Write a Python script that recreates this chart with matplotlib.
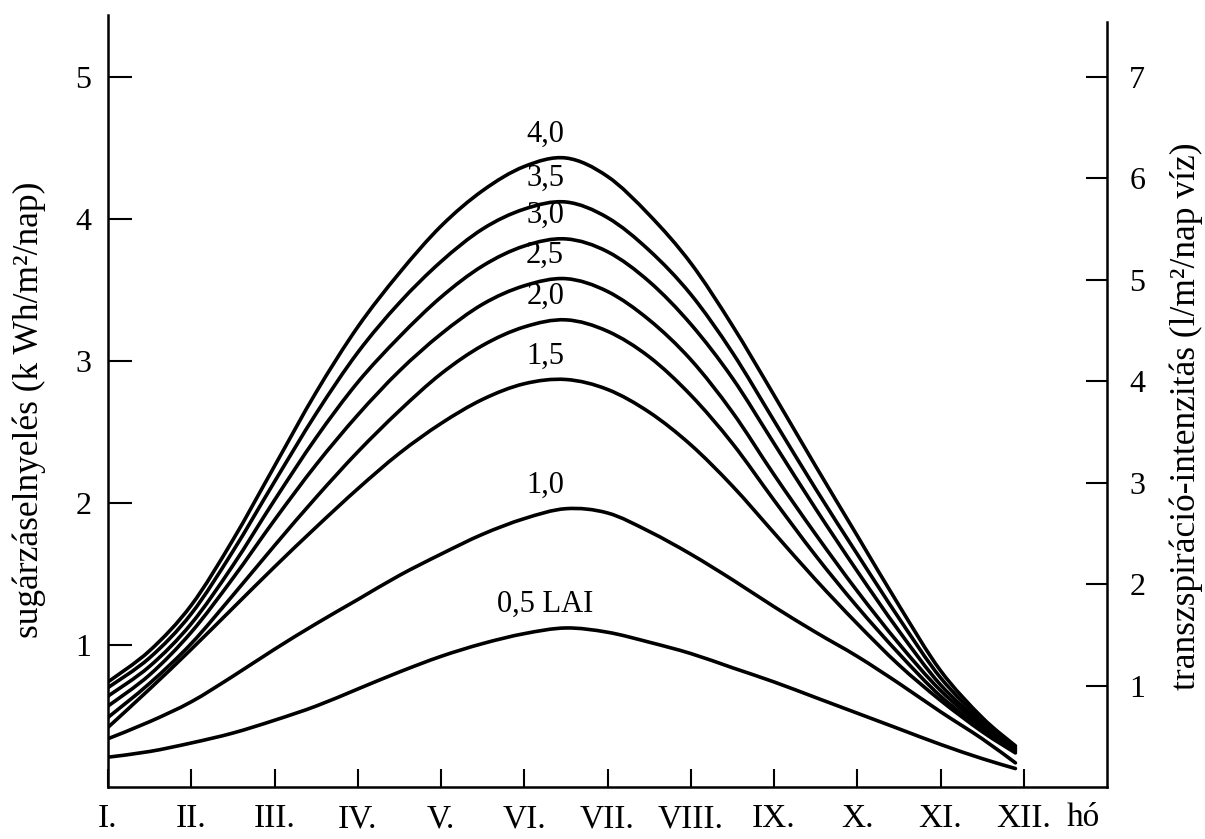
import matplotlib
matplotlib.use('Agg')
import matplotlib.pyplot as plt
from matplotlib.path import Path
from matplotlib.patches import PathPatch

plt.rcParams['font.family'] = ['Liberation Serif', 'DejaVu Serif']

# month position (0 = I., 11 = XII.)
month_pos = [0, 0.5, 1, 1.5, 2, 2.5, 3, 3.5, 4, 4.5, 5, 5.5, 6, 6.5, 7, 7.5,
             8, 8.5, 9, 9.5, 10, 10.5, 10.9]

# radiation absorption (kWh/m2/day) for each LAI
lai_0_5 = [0.21, 0.25, 0.31, 0.38, 0.47, 0.57, 0.69, 0.81, 0.92, 1.01, 1.08, 1.12,
           1.09, 1.02, 0.94, 0.84, 0.74, 0.63, 0.52, 0.41, 0.30, 0.20, 0.13]
lai_1_0 = [0.34, 0.46, 0.60, 0.78, 0.97, 1.15, 1.32, 1.49, 1.64, 1.78, 1.89, 1.96,
           1.93, 1.80, 1.64, 1.46, 1.27, 1.09, 0.92, 0.73, 0.53, 0.34, 0.17]
lai_1_5 = [0.42, 0.69, 0.97, 1.26, 1.55, 1.83, 2.10, 2.35, 2.56, 2.73, 2.84, 2.87,
           2.80, 2.64, 2.41, 2.12, 1.79, 1.46, 1.15, 0.86, 0.61, 0.39, 0.24]
lai_2_0 = [0.49, 0.73, 1.01, 1.35, 1.70, 2.04, 2.36, 2.65, 2.91, 3.11, 3.24, 3.29,
           3.21, 3.03, 2.76, 2.42, 2.02, 1.63, 1.27, 0.94, 0.64, 0.41, 0.25]
lai_2_5 = [0.57, 0.79, 1.09, 1.47, 1.88, 2.27, 2.62, 2.93, 3.19, 3.40, 3.53, 3.58,
           3.49, 3.29, 3.01, 2.64, 2.20, 1.78, 1.38, 1.01, 0.68, 0.43, 0.26]
lai_3_0 = [0.64, 0.85, 1.15, 1.56, 2.02, 2.46, 2.85, 3.17, 3.45, 3.67, 3.81, 3.86,
           3.77, 3.56, 3.26, 2.88, 2.42, 1.96, 1.52, 1.10, 0.72, 0.45, 0.27]
lai_3_5 = [0.70, 0.91, 1.22, 1.66, 2.15, 2.63, 3.06, 3.41, 3.70, 3.93, 4.07, 4.12,
           4.01, 3.78, 3.47, 3.06, 2.58, 2.10, 1.64, 1.19, 0.77, 0.47, 0.28]
lai_4_0 = [0.74, 0.96, 1.28, 1.74, 2.26, 2.78, 3.24, 3.62, 3.95, 4.20, 4.37, 4.43,
           4.30, 4.03, 3.69, 3.25, 2.76, 2.26, 1.77, 1.28, 0.82, 0.49, 0.29]

series = [lai_0_5, lai_1_0, lai_1_5, lai_2_0, lai_2_5, lai_3_0, lai_3_5, lai_4_0]
series_labels = ['0,5 LAI', '1,0', '1,5', '2,0', '2,5', '3,0', '3,5', '4,0']

month_labels = ['I.', 'II.', 'III.', 'IV.', 'V.', 'VI.', 'VII.', 'VIII.',
                'IX.', 'X.', 'XI.', 'XII.']
left_ticks = [1, 2, 3, 4, 5]
right_ticks = [1, 2, 3, 4, 5, 6, 7]


def smooth_path(xs, ys):
    """Bezier path passing through every read point (Catmull-Rom tangents)."""
    pts = list(zip(xs, ys))
    n = len(pts)
    verts = [pts[0]]
    codes = [Path.MOVETO]
    for i in range(n - 1):
        p0 = pts[i - 1] if i > 0 else pts[i]
        p1 = pts[i]
        p2 = pts[i + 1]
        p3 = pts[i + 2] if i + 2 < n else pts[i + 1]
        c1 = (p1[0] + (p2[0] - p0[0]) / 6.0, p1[1] + (p2[1] - p0[1]) / 6.0)
        c2 = (p2[0] - (p3[0] - p1[0]) / 6.0, p2[1] - (p3[1] - p1[1]) / 6.0)
        verts += [c1, c2, p2]
        codes += [Path.CURVE4] * 3
    return Path(verts, codes)


W, H = 1205, 839
fig = plt.figure(figsize=(W / 100, H / 100), dpi=100)
ax = fig.add_axes([108 / W, 1 - 787 / H, (1107 - 108) / W, (787 - 15) / H])

lw_axis = 1.8
for s in series:
    patch = PathPatch(smooth_path(month_pos, s), facecolor='none',
                      edgecolor='black', lw=2.6, capstyle='round',
                      joinstyle='round', transform=ax.transData)
    ax.add_patch(patch)

# curve labels above each peak
label_x = 5.25
for s, lab in zip(series, series_labels):
    ax.annotate(lab, xy=(label_x, max(s)), xytext=(0, 17),
                textcoords='offset points', ha='center', va='center',
                fontsize=22)

ax.set_xlim(0, 12)
ax.set_ylim(0, 5.437)
ax.spines['top'].set_visible(False)
ax.spines['right'].set_visible(False)
for sp in ['left', 'bottom']:
    ax.spines[sp].set_linewidth(lw_axis)

ax.set_xticks(range(12))
ax.set_xticklabels(month_labels)
ax.set_yticks(left_ticks)
ax.set_yticklabels([str(t) for t in left_ticks])
ax.tick_params(axis='x', direction='in', length=13, width=1.5, labelsize=24, pad=12)
ax.tick_params(axis='y', direction='in', length=17, width=1.5, labelsize=23, pad=12)

ax.text(11.71, -0.02, 'hó', transform=ax.get_xaxis_transform(), ha='center',
        va='top', fontsize=24, clip_on=False)

ax2 = ax.twinx()
ax2.set_ylim(0, 5.437 * 1.4)
for sp in ['top', 'left', 'bottom']:
    ax2.spines[sp].set_visible(False)
ax2.spines['right'].set_linewidth(lw_axis)
ax2.spines['right'].set_bounds(0, 7.54)
ax2.set_yticks(right_ticks)
ax2.set_yticklabels([str(t) for t in right_ticks])
ax2.tick_params(axis='y', direction='in', length=15, width=1.5, labelsize=23, pad=16)

fig.text(29 / W, 1 - 410 / H, 'sugárzáselnyelés (k Wh/m²/nap)', rotation=90,
         ha='center', va='center', fontsize=25.5)
fig.text(1186 / W, 1 - 416 / H, 'transzspiráció-intenzitás (l/m²/nap víz)',
         rotation=90, ha='center', va='center', fontsize=25.5)

fig.savefig('out.png', dpi=100)
